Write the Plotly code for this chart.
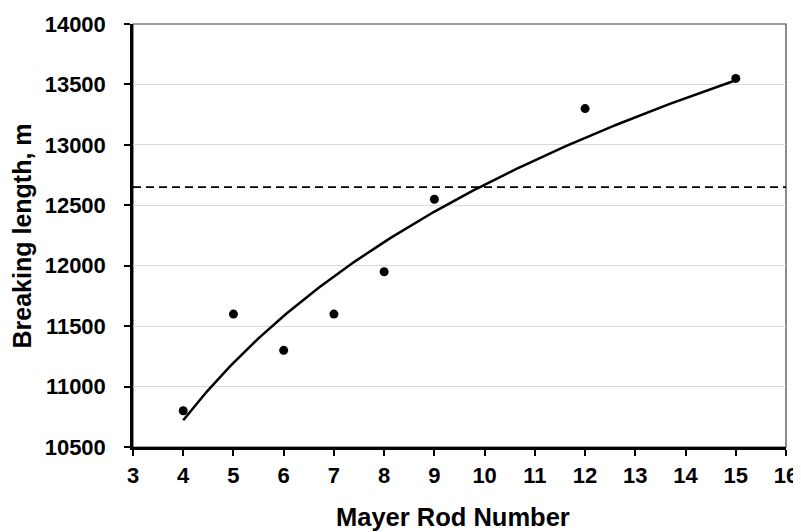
import numpy as np
import plotly.graph_objects as go

# Data
rod_number = [4, 5, 6, 7, 8, 9, 12, 15]
breaking_length = [10800, 11600, 11300, 11600, 11950, 12550, 13300, 13550]
reference_level = 12650
x_ticks = list(range(3, 17))
y_ticks = list(range(10500, 14001, 500))
y_tick_labels = [str(v) for v in y_ticks]

# Logarithmic trendline fitted to the data (as in the original spreadsheet)
a, b = np.polyfit(np.log(rod_number), breaking_length, 1)
xf = np.linspace(min(rod_number), max(rod_number), 200)
yf = a * np.log(xf) + b

FONT = "Liberation Sans, Arial, sans-serif"

fig = go.Figure()
fig.add_trace(go.Scatter(x=xf, y=yf, mode="lines",
                         line=dict(color="black", width=2.5), hoverinfo="skip"))
fig.add_trace(go.Scatter(x=rod_number, y=breaking_length, mode="markers",
                         marker=dict(color="black", size=9)))
fig.add_shape(type="line", xref="paper", x0=0, x1=1, yref="y",
              y0=reference_level, y1=reference_level,
              line=dict(color="black", width=1.8, dash="8px,5px"))
# thin frame for top/right
fig.add_shape(type="rect", xref="paper", yref="paper", x0=0, x1=1, y0=0, y1=1,
              line=dict(color="#404040", width=1.2), layer="below")

fig.add_annotation(text="Mayer Rod Number", xref="paper", yref="paper",
                   x=0.49, y=-0.165, xanchor="center", yanchor="middle",
                   showarrow=False,
                   font=dict(family=FONT, size=25.5, weight="bold", color="black"))
fig.add_annotation(text="Breaking length, m", xref="paper", yref="paper",
                   x=-0.170, y=0.5, xanchor="center", yanchor="middle",
                   textangle=-90, showarrow=False,
                   font=dict(family=FONT, size=25, weight="bold", color="black"))

# page body adds an 8px offset, so margins are shifted accordingly
fig.update_layout(
    width=801, height=532,
    margin=dict(l=125, r=23, t=16, b=93, autoexpand=False),
    plot_bgcolor="white", paper_bgcolor="white",
    showlegend=False,
    font=dict(family=FONT, color="black", size=22, weight="bold"),
)
fig.update_xaxes(
    range=[3, 16], tickmode="array", tickvals=x_ticks,
    showgrid=False, zeroline=False, automargin=False,
    showline=True, linecolor="black", linewidth=2.5,
    ticks="outside", ticklen=6, tickwidth=2, tickcolor="black",
    ticklabelstandoff=1,
    tickfont=dict(family=FONT, size=22, weight="bold"),
)
fig.update_yaxes(
    range=[10500, 14000], tickmode="array", tickvals=y_ticks, ticktext=y_tick_labels,
    showgrid=True, gridcolor="#d9d9d9", gridwidth=1, zeroline=False, automargin=False,
    showline=True, linecolor="black", linewidth=2.5,
    ticks="outside", ticklen=6, tickwidth=2, tickcolor="black",
    ticklabelstandoff=14,
    tickfont=dict(family=FONT, size=22, weight="bold"),
)

fig.write_html("out.html")
